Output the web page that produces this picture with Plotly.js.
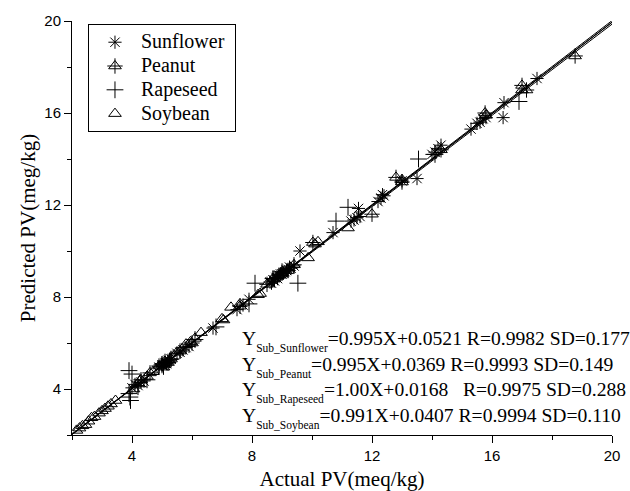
<!DOCTYPE html>
<html>
<head>
<meta charset="utf-8">
<script src="https://cdn.plot.ly/plotly-3.0.1.min.js"></script>
<style>html,body{margin:0;padding:0;background:#fff;}#chart{width:630px;height:491px;}</style>
</head>
<body>
<div id="chart"></div>
<script>
// ---- Data ----
const sunflowerX = [4.0,4.1,4.2,4.3,4.4,4.9,5.0,5.05,5.1,5.15,5.2,5.3,5.5,5.6,5.7,5.8,5.9,6.7,7.5,7.7,7.9,8.6,8.65,8.7,8.75,8.8,8.85,8.9,8.95,9.0,9.05,9.1,9.15,9.2,9.25,9.3,9.4,9.6,10.7,11.3,11.4,11.5,11.55,11.6,12.2,12.3,12.35,12.4,13.0,13.5,14.0,14.1,14.2,14.3,15.3,15.5,15.6,15.7,15.8,16.37,16.4,17.5];
const sunflowerY = [4.05,4.2,4.15,4.3,4.35,4.95,5.05,5.0,5.15,5.1,5.25,5.3,5.55,5.6,5.7,5.8,5.85,6.65,7.45,7.65,7.9,8.65,8.6,8.75,8.7,8.85,8.8,8.95,9.0,9.0,9.05,9.1,9.15,9.2,9.3,9.25,9.35,10.0,10.8,11.3,11.35,11.45,11.85,11.5,12.15,12.3,12.45,12.4,13.05,13.15,14.2,14.3,14.45,14.6,15.3,15.55,15.6,15.75,15.8,15.8,16.45,17.5];

const peanutX = [4.3,4.6,4.9,5.0,5.05,5.1,5.2,5.25,5.3,5.6,6.0,7.6,8.5,8.7,8.9,9.0,9.2,9.4,10.03,12.0,12.8,13.0,14.3,15.77,17.0,17.15,18.77];
const peanutY = [4.4,4.7,5.0,5.1,4.95,5.2,5.15,5.25,5.3,5.65,6.0,7.6,8.55,8.8,8.95,9.05,9.15,9.4,10.37,11.6,13.2,13.0,14.4,16.0,17.2,17.0,18.48];

const rapeseedX = [3.9,4.0,3.9,3.93,3.95,4.2,4.5,5.0,5.3,6.1,6.8,7.9,8.1,8.7,9.0,9.53,10.8,11.2,13.55,14.1,16.9];
const rapeseedY = [4.8,4.65,3.8,3.65,3.5,4.1,4.4,5.05,5.3,6.15,6.7,7.7,8.6,8.8,9.1,8.6,11.3,11.9,14.0,14.2,16.5];

const soybeanX = [2.15,2.25,2.35,2.45,2.55,2.65,2.75,2.9,3.0,3.1,3.2,3.3,3.45,4.05,4.27,4.5,4.7,5.5,5.8,5.95,6.1,6.3,7.0,7.05,7.3,7.6,8.2,8.27,9.0,9.87,10.1,10.2,11.2,13.0,15.8,17.0];
const soybeanY = [2.2,2.3,2.4,2.45,2.6,2.75,2.8,2.95,3.05,3.15,3.25,3.35,3.5,4.0,4.38,4.55,4.75,5.6,5.95,6.05,6.2,6.45,7.05,7.0,7.55,7.7,8.1,8.15,9.0,9.7,10.3,10.4,11.0,13.1,15.9,17.0];

// Regression fits (slope, intercept) and statistics as printed in the chart
const fitNames = ['Sunflower','Peanut','Rapeseed','Soybean'];
const fitSlope = [0.995, 0.995, 1.00, 0.991];
const fitIntercept = [0.0521, 0.0369, 0.0168, 0.0407];
const fitLabels = ['=0.995X+0.0521 R=0.9982 SD=0.177',
                   '=0.995X+0.0369 R=0.9993 SD=0.149',
                   '=1.00X+0.0168\u00a0\u00a0\u00a0R=0.9975 SD=0.288',
                   '=0.991X+0.0407 R=0.9994 SD=0.110'];
const lineRange = [2, 20];
const tickVals = [4, 8, 12, 16, 20];

const serif = 'Liberation Serif';
const sans = 'Liberation Sans';

function mk(sym, size) {
  return {symbol: sym, size: size, color: 'black', line: {color: 'black', width: 1}};
}
function legName(n, col) {
  return '<span style="font-size:20px' + (col ? ';color:' + col : '') + '">' + n + '\u00a0</span>';
}

const traces = [];
fitNames.forEach((n, i) => {
  traces.push({
    x: lineRange, y: lineRange.map(v => fitSlope[i] * v + fitIntercept[i]),
    mode: 'lines', line: {color: 'black', width: 1}, showlegend: false, hoverinfo: 'skip'
  });
});
traces.push({x: sunflowerX, y: sunflowerY, mode: 'markers', name: legName('Sunflower'), marker: mk('asterisk-open', 11)});
traces.push({x: peanutX, y: peanutY, mode: 'markers', name: legName('Peanut'), legendgroup: 'p', marker: mk('triangle-up-open', 11)});
traces.push({x: rapeseedX, y: rapeseedY, mode: 'markers', name: legName('Rapeseed'), marker: mk('cross-thin-open', 12)});
traces.push({x: soybeanX, y: soybeanY, mode: 'markers', name: legName('Soybean'), marker: mk('triangle-up-open', 11)});
traces.push({x: peanutX, y: peanutY, mode: 'markers', name: legName('Peanut', 'rgba(0,0,0,0)'), legendgroup: 'p', legend: 'legend2', marker: mk('cross-thin-open', 11)});

const annotations = fitNames.map((n, i) => ({
  xref: 'paper', yref: 'paper', x: 0.311, y: 0.227 - i * 0.0625,
  xanchor: 'left', yanchor: 'middle', showarrow: false,
  font: {family: serif, size: 19.6, color: 'black'},
  text: 'Y<sub><sub><span style="font-size:11.5px">Sub_' + n + '</span></sub></sub>' + fitLabels[i]
}));

const axisCommon = {
  range: [2, 20], tickmode: 'array', tickvals: tickVals, ticks: 'outside', ticklen: 7, tickwidth: 1,
  tickcolor: 'black', showline: true, linecolor: 'black', linewidth: 1, showgrid: false, zeroline: false,
  mirror: false, tickfont: {family: sans, size: 15, color: 'black'},
  minor: {tickmode: 'linear', tick0: 0, dtick: 2, ticks: 'outside', ticklen: 4, tickcolor: 'black', tickwidth: 1, showgrid: false}
};

const legendRow = 16 * 1.3 + 3;
const legendTop = 0.992;
const layout = {
  width: 630, height: 491,
  margin: {l: 72, r: 18, t: 21, b: 56},
  font: {family: serif, color: 'black'},
  paper_bgcolor: 'white', plot_bgcolor: 'white',
  showlegend: true,
  xaxis: Object.assign({}, axisCommon, {title: {text: 'Actual PV(meq/kg)', font: {family: serif, size: 21, color: 'black'}, standoff: 8}}),
  yaxis: Object.assign({}, axisCommon, {title: {text: 'Predicted PV(meg/kg)', font: {family: serif, size: 21, color: 'black'}, standoff: 2}}),
  legend: {x: 0.0296, y: legendTop, xanchor: 'left', yanchor: 'top', bgcolor: 'white', bordercolor: 'black', borderwidth: 1,
           font: {family: serif, size: 16, color: 'black'}, itemwidth: 42, traceorder: 'normal'},
  legend2: {x: 0.0296, y: legendTop - legendRow/414, xanchor: 'left', yanchor: 'top', bgcolor: 'rgba(0,0,0,0)', bordercolor: 'rgba(0,0,0,0)', borderwidth: 1,
           font: {family: serif, size: 16, color: 'rgba(0,0,0,0)'}, itemwidth: 42},
  annotations: annotations
};

Plotly.newPlot('chart', traces, layout, {staticPlot: true, displayModeBar: false});
</script>
</body>
</html>
